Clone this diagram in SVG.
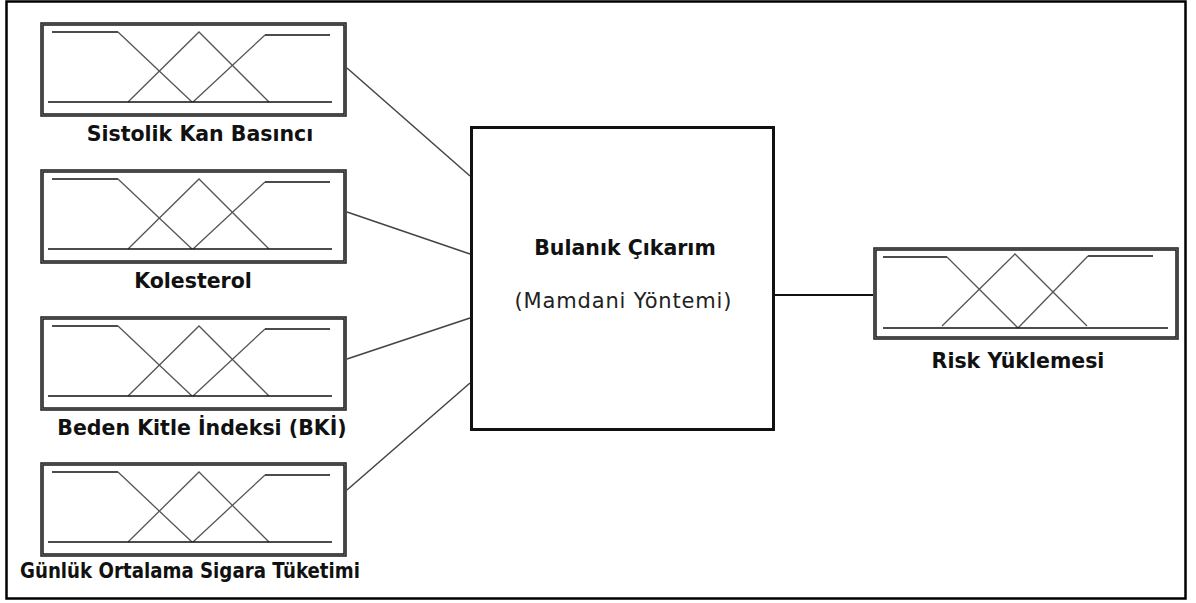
<svg xmlns="http://www.w3.org/2000/svg" width="1196" height="603" viewBox="0 0 1196 603">
<style>
.frame{fill:#fff;stroke:#000;stroke-width:2.5}
.bo{fill:#fff;stroke:#1a1a1a;stroke-width:3.5}
.bi{fill:none;stroke:#888;stroke-width:0.8}
.h{stroke:#111;stroke-width:1.5;fill:none}
.d{stroke:#555;stroke-width:1.3;fill:none}
.lbl{font-family:"DejaVu Sans",Verdana,sans-serif;font-weight:bold;font-size:20.5px;fill:#111;text-anchor:middle}
.reg{font-family:"DejaVu Sans",Verdana,sans-serif;font-size:21px;fill:#222;text-anchor:middle}
.con{stroke:#444;stroke-width:1.5;fill:none}
.out{stroke:#111;stroke-width:2.2;fill:none}
.main{fill:#fff;stroke:#111;stroke-width:3}
</style>
<defs>
<g id="mf">
<rect class="bo" x="42" y="2" width="303" height="91"/>
<rect class="bi" x="42" y="2" width="303" height="91"/>
<polyline class="h" points="52,10 118,10"/>
<line class="d" x1="118" y1="10" x2="192" y2="80"/>
<polyline class="d" points="128,80 199,10 269,80"/>
<line class="d" x1="193" y1="80" x2="265" y2="13"/>
<polyline class="h" points="265,13 330,13"/>
<line class="h" x1="48" y1="80" x2="332" y2="80"/>
</g>
</defs>
<rect class="frame" x="6.5" y="1.5" width="1179" height="597"/>
<g id="connectors">
<line class="con" x1="347" y1="68" x2="470" y2="176"/>
<line class="con" x1="347" y1="212" x2="470" y2="254"/>
<line class="con" x1="347" y1="359" x2="470" y2="318"/>
<line class="con" x1="347" y1="490" x2="470" y2="383"/>
<line class="out" x1="775" y1="295" x2="873" y2="295"/>
</g>
<g id="sistolik">
<use href="#mf" y="22"/>
<text class="lbl" x="200" y="141">Sistolik Kan Basıncı</text>
</g>
<g id="kolesterol">
<use href="#mf" y="169"/>
<text class="lbl" x="193" y="288">Kolesterol</text>
</g>
<g id="bki">
<use href="#mf" y="316"/>
<text class="lbl" x="202" y="435">Beden Kitle İndeksi (BKİ)</text>
</g>
<g id="sigara">
<use href="#mf" y="462"/>
<text class="lbl" x="190" y="578" textLength="340" lengthAdjust="spacingAndGlyphs">Günlük Ortalama Sigara Tüketimi</text>
</g>
<g id="bulanik">
<rect class="main" x="471.5" y="127.5" width="302" height="302"/>
<text class="lbl" x="625" y="255">Bulanık Çıkarım</text>
<text class="reg" x="623" y="308" textLength="217" lengthAdjust="spacing">(Mamdani Yöntemi)</text>
</g>
<g id="risk">
<rect class="bo" x="875" y="249" width="302" height="89"/>
<rect class="bi" x="875" y="249" width="302" height="89"/>
<polyline class="h" points="883,257 947,257"/>
<line class="d" x1="947" y1="257" x2="1018" y2="328"/>
<polyline class="d" points="942,326 1015,254 1087,326"/>
<line class="d" x1="1018" y1="328" x2="1088" y2="256"/>
<polyline class="h" points="1088,256 1153,256"/>
<line class="h" x1="883" y1="328" x2="1168" y2="328"/>
<text class="lbl" x="1018" y="368">Risk Yüklemesi</text>
</g>
</svg>
